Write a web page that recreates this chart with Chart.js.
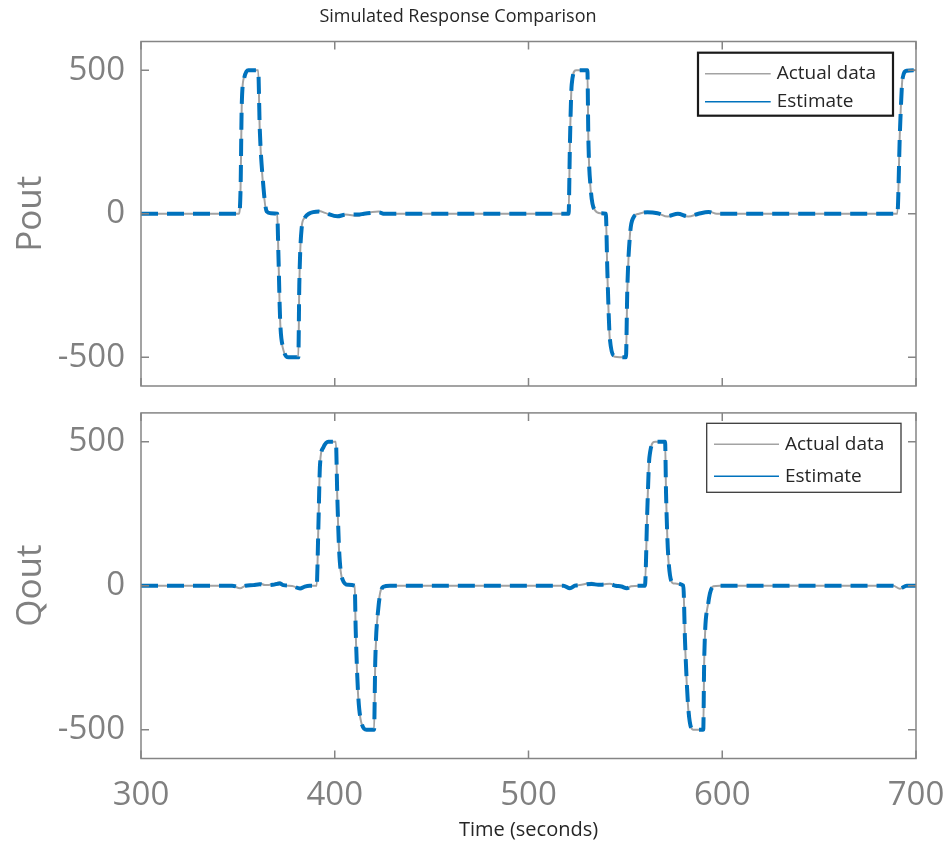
<!DOCTYPE html>
<html>
<head>
<meta charset="utf-8">
<title>Simulated Response Comparison</title>
<script src="https://cdn.jsdelivr.net/npm/chart.js@4.4.1/dist/chart.umd.min.js"></script>
<style>
  html, body { margin: 0; padding: 0; background: #fff; }
  .panel { position: absolute; left: 0; width: 947px; }
  #top { top: 0; height: 400px; }
  #bottom { top: 400px; height: 442px; }
</style>
</head>
<body>
<div class="panel" id="top"><canvas id="poutCanvas" width="947" height="400"></canvas></div>
<div class="panel" id="bottom"><canvas id="qoutCanvas" width="947" height="442"></canvas></div>
<script>
// Tick labels
const xTicks = [300, 400, 500, 600, 700]
const yTicks = [-500, 0, 500]

// Pout (top panel)
const poutTime = [300, 350.6, 351.4, 352, 353.2, 355.4, 360.5, 361.3, 362.8, 364.9, 367, 370.3,
  370.9, 371.8, 373.5, 376.1, 381.2, 381.7, 382.9, 384.4, 386.6, 391.9, 395, 401.4, 405.6, 412,
  415.1, 422.6, 425.7, 520.7, 521.4, 522.3, 524.5, 530.4, 530.9, 532.1, 534.3, 537, 539.9, 540.7,
  542, 544.6, 550.3, 551, 552.4, 554, 557, 561.3, 566.6, 571.8, 577.1, 582.4, 587.7, 593, 597.2,
  690.4, 691.7, 693.1, 695.2, 700]
const poutActual = [0, 0, 93, 383, 476, 500, 500, 290, 117, 6, 2, 0,
  -138, -371, -475, -500, -500, -255, -46, -15, 0, 10, 3, -11, -3, -7,
  0, 8, 0, 0, 256, 453, 500, 500, 256, 82, 12, 2, 0, -207,
  -440, -498, -500, -266, -69, -15, 0, 6, 2, -10, 0, -10, 0, 8, 0,
  0, 290, 476, 498, 500]
const poutEstimate = [0, 0, 90, 380, 470, 500, 500, 295, 125, 8, 2, 0,
  -135, -368, -470, -500, -500, -250, -52, -15, 0, 8, 3, -9, -3, -3,
  0, 5, 0, 0, 250, 450, 500, 500, 260, 88, 12, 2, 0, -200,
  -436, -496, -500, -262, -72, -15, 0, 5, 2, -8, 0, -9, 0, 6, 0,
  0, 285, 472, 498, 500]

// Qout (bottom panel)
const qoutTime = [300, 347, 351.1, 354, 358, 361.4, 364, 368, 371.7, 373.5, 378, 382.1, 384.5,
  387, 390.7, 391.5, 392.4, 394.1, 396.7, 400.6, 401.3, 402.3, 404, 406.9, 410.3, 410.8, 412.1,
  413.8, 416.4, 420.3, 420.9, 422.5, 425.1, 428.5, 518, 521.4, 524, 528, 532.6, 536, 539, 542,
  545, 548, 550.7, 553, 557.6, 560.1, 561.3, 562.4, 565.3, 570.5, 571, 572.2, 574.8, 579.9,
  580.8, 582.5, 585.1, 590.2, 590.7, 592.7, 595.4, 598.8, 688.3, 691.7, 695.2, 700]
const qoutActual = [0, 0, -9, 0, 3, 8, 2, 5, 12, 2, -1, -9, -3,
  0, 0, 193, 425, 483, 500, 500, 309, 112, 20, 3, 0, -154, -385,
  -478, -500, -500, -270, -73, -3, 0, 0, -7, 0, 4, 10, 3, 5, 7,
  0, -3, -8, -2, 0, 0, 263, 448, 500, 500, 321, 89, 8, 0,
  -200, -432, -500, -500, -258, -61, -2, 0, 0, -11, 0, 0]
const qoutEstimate = [0, 0, -5, 0, 2, 5, 2, 3, 8, 2, -1, -10, -3,
  0, 0, 190, 420, 480, 500, 500, 315, 118, 22, 3, 0, -150, -380,
  -475, -500, -500, -265, -78, -4, 0, 0, -9, 0, 3, 6, 3, 4, 5,
  0, -3, -9, -2, 0, 0, 258, 445, 500, 500, 318, 95, 9, 0,
  -195, -428, -500, -500, -252, -66, -3, 0, 0, -10, 0, 0]

const toPoints = (xs, ys) => xs.map((x, i) => ({ x, y: ys[i] }))

const FONT = "'Open Sans', 'Noto Sans', sans-serif"
const AXIS_GREY = '#858585'
const TEXT_GREY = '#808080'
const BLUE = '#0072BD'
const DATA_GREY = '#a3a3a3'

// MATLAB-like box with inward ticks on all four sides, plus boxed legend inside the axes
const matlabAxes = {
  id: 'matlabAxes',
  afterDatasetsDraw(chart, args, opts) {
    const { ctx, chartArea: a, scales: { x, y } } = chart
    ctx.save()
    ctx.strokeStyle = AXIS_GREY
    ctx.lineWidth = 1.5
    ctx.strokeRect(a.left, a.top, a.right - a.left, a.bottom - a.top)
    ctx.beginPath()
    xTicks.forEach(v => {
      const px = x.getPixelForValue(v)
      ctx.moveTo(px, a.bottom); ctx.lineTo(px, a.bottom - 8)
      ctx.moveTo(px, a.top); ctx.lineTo(px, a.top + 8)
    })
    yTicks.forEach(v => {
      const py = y.getPixelForValue(v)
      ctx.moveTo(a.left, py); ctx.lineTo(a.left + 8, py)
      ctx.moveTo(a.right, py); ctx.lineTo(a.right - 8, py)
    })
    ctx.stroke()

    // legend box
    const lg = opts.legend
    const bx = a.right - lg.right - lg.width
    const by = a.top + lg.top
    ctx.fillStyle = '#fff'
    ctx.fillRect(bx, by, lg.width, lg.height)
    ctx.strokeStyle = lg.borderColor
    ctx.lineWidth = lg.borderWidth
    ctx.strokeRect(bx, by, lg.width, lg.height)
    ctx.font = '19px ' + FONT
    ctx.textBaseline = 'middle'
    ctx.textAlign = 'left'
    chart.data.datasets.forEach((ds, i) => {
      const ry = by + lg.rows[i]
      ctx.strokeStyle = ds.borderColor
      ctx.lineWidth = 1.5
      ctx.setLineDash([])
      ctx.beginPath()
      ctx.moveTo(bx + lg.lineFrom, ry)
      ctx.lineTo(bx + lg.lineTo, ry)
      ctx.stroke()
      ctx.fillStyle = '#262626'
      ctx.fillText(ds.label, bx + lg.textX, ry)
    })
    ctx.restore()
  }
}

function makeChart(canvas, cfg) {
  return new Chart(canvas, {
    type: 'line',
    data: {
      datasets: [
        {
          label: 'Actual data',
          data: toPoints(cfg.time, cfg.actual),
          borderColor: DATA_GREY,
          borderWidth: 2,
          pointRadius: 0,
          cubicInterpolationMode: 'monotone',
          order: 1
        },
        {
          label: 'Estimate',
          data: toPoints(cfg.time, cfg.estimate),
          borderColor: BLUE,
          borderWidth: 4,
          borderDash: [17, 9],
          pointRadius: 0,
          cubicInterpolationMode: 'monotone',
          order: 0
        }
      ]
    },
    options: {
      responsive: false,
      animation: false,
      layout: { padding: cfg.padding },
      plugins: {
        legend: { display: false },
        tooltip: { enabled: false },
        title: cfg.title,
        matlabAxes: { legend: cfg.legend }
      },
      scales: {
        x: {
          type: 'linear',
          min: 300,
          max: 700,
          grid: { display: false },
          border: { display: false },
          afterBuildTicks: s => { s.ticks = xTicks.map(v => ({ value: v })) },
          afterFit: s => { s.height = cfg.xHeight; s.paddingLeft = 0; s.paddingRight = 0 },
          ticks: {
            display: cfg.showX,
            color: TEXT_GREY,
            padding: 9,
            maxRotation: 0,
            font: { size: 33, family: FONT }
          },
          title: {
            display: cfg.showX,
            text: 'Time (seconds)',
            color: '#262626',
            font: { size: 20, family: FONT },
            padding: { top: 0, bottom: 0 }
          }
        },
        y: {
          min: -600,
          max: 600,
          grid: { display: false },
          border: { display: false },
          afterBuildTicks: s => { s.ticks = yTicks.map(v => ({ value: v })) },
          afterFit: s => { s.width = 141; s.paddingTop = 0; s.paddingBottom = 0 },
          ticks: {
            color: TEXT_GREY,
            padding: 8,
            font: { size: 33, family: FONT }
          },
          title: {
            display: true,
            text: cfg.yLabel,
            color: TEXT_GREY,
            font: { size: 35, family: FONT },
            padding: { top: 10, bottom: 0 }
          }
        }
      }
    },
    plugins: [matlabAxes]
  })
}

makeChart(document.getElementById('poutCanvas'), {
  time: poutTime,
  actual: poutActual,
  estimate: poutEstimate,
  yLabel: 'Pout',
  showX: false,
  xHeight: 14,
  padding: { left: 0, right: 31, top: 0, bottom: 0 },
  title: {
    display: true,
    text: 'Simulated Response Comparison',
    color: '#262626',
    font: { size: 18, weight: 'normal', family: FONT },
    padding: { top: 6, bottom: 13.9 }
  },
  legend: { right: 23, top: 11.2, width: 195, height: 63, borderWidth: 2.2, borderColor: '#1a1a1a',
    rows: [21, 49], lineFrom: 7, lineTo: 72.7, textX: 78.7 }
})

makeChart(document.getElementById('qoutCanvas'), {
  time: qoutTime,
  actual: qoutActual,
  estimate: qoutEstimate,
  yLabel: 'Qout',
  showX: true,
  xHeight: 83.5,
  padding: { left: 0, right: 31, top: 12.9, bottom: 0 },
  title: { display: false },
  legend: { right: 15, top: 10.4, width: 194.3, height: 69, borderWidth: 1.3, borderColor: '#3a3a3a',
    rows: [21, 53], lineFrom: 7.3, lineTo: 72.3, textX: 78.3 }
})
</script>
</body>
</html>
